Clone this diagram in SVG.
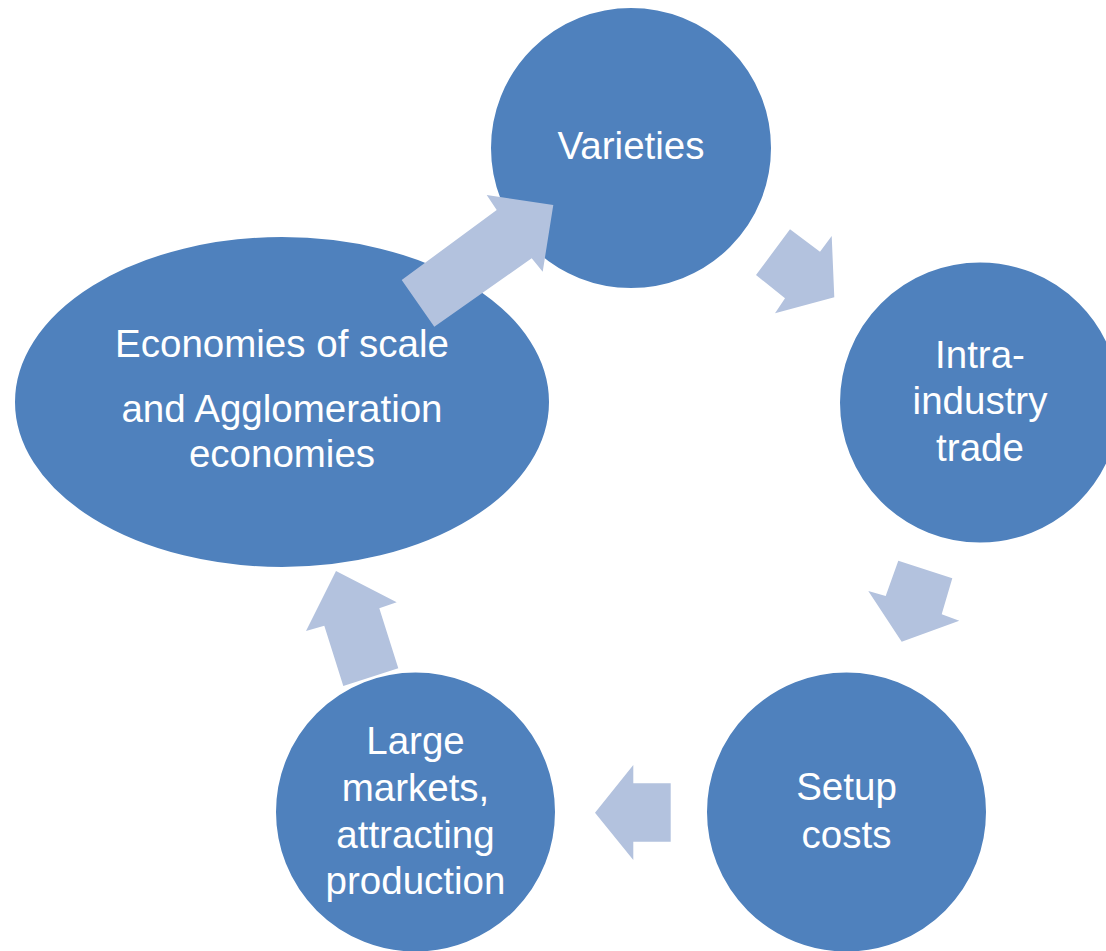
<svg xmlns="http://www.w3.org/2000/svg" width="1106" height="951" viewBox="0 0 1106 951">
<style>
.node{fill:#4F81BD;stroke:#FFFFFF;stroke-width:2}
.arrow{fill:#B3C2DE;stroke:none}
.lbl{font-family:"Liberation Sans",Arial,sans-serif;font-size:38.5px;fill:#FFFFFF;text-anchor:middle}
</style>
<rect width="1106" height="951" fill="#FFFFFF"/>
<g id="node-economies">
<ellipse class="node" cx="282" cy="402" rx="268" ry="166"/>
<text class="lbl" x="282" y="357">Economies of scale</text>
<text class="lbl" x="282" y="422">and Agglomeration</text>
<text class="lbl" x="282" y="467">economies</text>
</g>
<g id="node-varieties">
<circle class="node" cx="631" cy="148" r="141"/>
<text class="lbl" x="631" y="159">Varieties</text>
</g>
<g id="node-intra">
<circle class="node" cx="980" cy="402.5" r="141"/>
<text class="lbl" x="980" y="368">Intra-</text>
<text class="lbl" x="980" y="414">industry</text>
<text class="lbl" x="980" y="461">trade</text>
</g>
<g id="node-setup">
<circle class="node" cx="846.5" cy="812" r="140.5"/>
<text class="lbl" x="846.5" y="800">Setup</text>
<text class="lbl" x="846.5" y="848">costs</text>
</g>
<g id="node-large">
<circle class="node" cx="415.5" cy="812" r="140.5"/>
<text class="lbl" x="415.5" y="754">Large</text>
<text class="lbl" x="415.5" y="801">markets,</text>
<text class="lbl" x="415.5" y="848">attracting</text>
<text class="lbl" x="415.5" y="894">production</text>
</g>
<g id="connectors">
<polygon class="arrow" points="401.7,280 496.7,210 486.7,195 553.3,205 542.7,271.7 531.7,258.3 434.3,326.7"/>
<polygon class="arrow" points="790,229.3 820,251.7 831.7,236 834.3,297.3 775,313.3 785,298.3 756,275"/>
<polygon class="arrow" points="898.3,560.7 952.3,578.3 941.7,614.3 959.3,620.7 901.7,641.7 868.3,591 885.7,596"/>
<polygon class="arrow" points="670.7,783.3 670.7,841.7 633.3,841.7 633.3,860 595,812.7 633.3,765 633.3,783.3"/>
<polygon class="arrow" points="336,571 396.7,602.3 379.3,608.3 398.3,668.3 343.3,686 324.3,625.7 306,631"/>
</g>
</svg>
